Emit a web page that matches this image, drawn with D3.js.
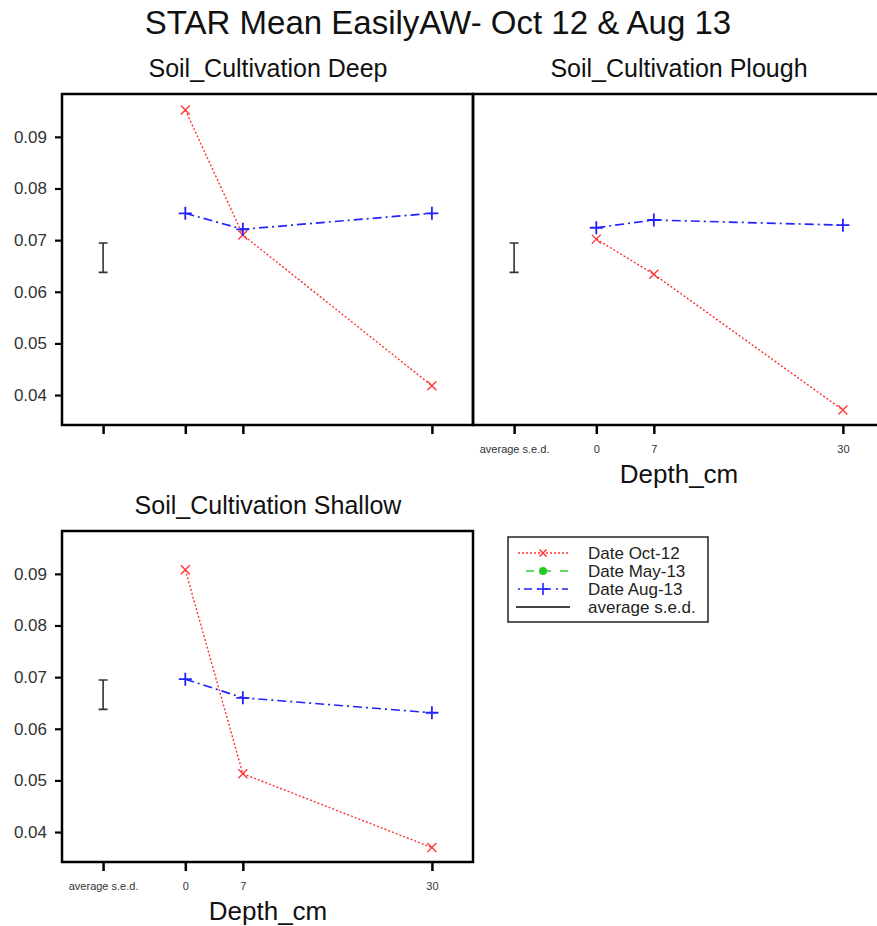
<!DOCTYPE html>
<html><head><meta charset="utf-8">
<script src="https://cdn.jsdelivr.net/npm/d3@7"></script>
<style>body{margin:0;background:#fff}svg{display:block;font-family:"Liberation Sans",Arial,sans-serif}</style>
</head><body>
<script>
// ---- data ----
const depths = [0, 7, 30];
const xTickValues = [-10, 0, 7, 30];
const xTickLabels = ["average s.e.d.", "0", "7", "30"];
const yTickValues = [0.04, 0.05, 0.06, 0.07, 0.08, 0.09];
const seriesNames = ["Date Oct-12", "Date May-13", "Date Aug-13", "average s.e.d."];
const deepOct12 = [0.0952, 0.0710, 0.0418];
const deepAug13 = [0.0752, 0.0721, 0.0752];
const ploughOct12 = [0.0702, 0.0634, 0.0371];
const ploughAug13 = [0.0724, 0.0739, 0.0729];
const shallowOct12 = [0.0908, 0.0513, 0.0370];
const shallowAug13 = [0.0696, 0.0660, 0.0631];
const sedCentre = 0.0666;
const sedHalf = 0.00285;
const sedX = -10;

const W = 877, H = 926;
const svg = d3.select("body").append("svg").attr("width", W).attr("height", H);

svg.append("text").attr("x", 438).attr("y", 34).attr("text-anchor", "middle")
  .attr("font-size", 33).attr("fill", "#111").text("STAR Mean EasilyAW- Oct 12 & Aug 13");

const pw = 411, ph = 331;
const x = d3.scaleLinear().domain([-15, 35]).range([0, pw]);
const y = d3.scaleLinear().domain([0.0342, 0.0983]).range([ph, 0]);

const panels = [
  {title: "Soil_Cultivation Deep", left: 62, top: 94, oct: deepOct12, aug: deepAug13, yLabels: true, xLabels: false},
  {title: "Soil_Cultivation Plough", left: 473, top: 94, oct: ploughOct12, aug: ploughAug13, yLabels: false, xLabels: true},
  {title: "Soil_Cultivation Shallow", left: 62, top: 531, oct: shallowOct12, aug: shallowAug13, yLabels: true, xLabels: true}
];

function crossPath(s){ return `M${-s},${-s}L${s},${s}M${-s},${s}L${s},${-s}`; }
function plusPath(s){ return `M${-s},0L${s},0M0,${-s}L0,${s}`; }

panels.forEach(p => {
  const g = svg.append("g").attr("transform", `translate(${p.left},${p.top})`);
  svg.append("text").attr("x", p.left + 206).attr("y", p.top - 17).attr("text-anchor", "middle")
    .attr("font-size", 25).attr("fill", "#111").text(p.title);

  // frame
  g.append("rect").attr("x", 0).attr("y", 0).attr("width", pw).attr("height", ph)
    .attr("fill", "none").attr("stroke", "#000").attr("stroke-width", 2.5);

  // y axis
  const ya = d3.axisLeft(y).tickValues(yTickValues).tickSize(7).tickSizeOuter(0)
    .tickFormat(p.yLabels ? d3.format(".2f") : () => "");
  const yg = g.append("g").call(ya);
  yg.select(".domain").remove();
  yg.selectAll(".tick line").attr("stroke", "#000").attr("stroke-width", 2.2);
  yg.selectAll(".tick text").attr("font-size", 17).attr("fill", "#333").attr("x", -15)
    .attr("font-family", "Liberation Sans, Arial, sans-serif");
  if (!p.yLabels) yg.selectAll(".tick line").remove();

  // x axis
  const xa = d3.axisBottom(x).tickValues(xTickValues).tickSize(9).tickSizeOuter(0)
    .tickFormat((d, i) => p.xLabels ? xTickLabels[i] : "");
  const xg = g.append("g").attr("transform", `translate(0,${ph})`).call(xa);
  xg.select(".domain").remove();
  xg.selectAll(".tick line").attr("stroke", "#000").attr("stroke-width", 2.5);
  xg.selectAll(".tick text").attr("font-size", 11).attr("fill", "#333").attr("y", 20)
    .attr("font-family", "Liberation Sans, Arial, sans-serif");

  if (p.xLabels) {
    svg.append("text").attr("x", p.left + 206).attr("y", p.top + ph + 58).attr("text-anchor", "middle")
      .attr("font-size", 26).attr("fill", "#111").text("Depth_cm");
  }

  // sed bar
  const sx = x(sedX), sy1 = y(sedCentre + sedHalf), sy2 = y(sedCentre - sedHalf);
  g.append("path").attr("d", `M${sx-4.5},${sy1}H${sx+4.5}M${sx},${sy1}V${sy2}M${sx-4.5},${sy2}H${sx+4.5}`)
    .attr("stroke", "#333").attr("stroke-width", 1.6).attr("fill", "none");

  const line = d3.line().x((d, i) => x(depths[i])).y(d => y(d));
  // Oct-12
  g.append("path").datum(p.oct).attr("d", line).attr("fill", "none")
    .attr("stroke", "#ff3333").attr("stroke-width", 1.4).attr("stroke-dasharray", "2,2");
  g.selectAll(".oc").data(p.oct).enter().append("path")
    .attr("transform", (d, i) => `translate(${x(depths[i])},${y(d)})`)
    .attr("d", crossPath(4.5)).attr("stroke", "#ff3333").attr("stroke-width", 1.3).attr("fill", "none");
  // Aug-13
  g.append("path").datum(p.aug).attr("d", line).attr("fill", "none")
    .attr("stroke", "#2222ff").attr("stroke-width", 1.7).attr("stroke-dasharray", "9,4,2,4");
  g.selectAll(".au").data(p.aug).enter().append("path")
    .attr("transform", (d, i) => `translate(${x(depths[i])},${y(d)})`)
    .attr("d", plusPath(6.5)).attr("stroke", "#2222ff").attr("stroke-width", 1.8).attr("fill", "none");
});

// legend
const lg = svg.append("g").attr("transform", "translate(508,537)");
lg.append("rect").attr("width", 200).attr("height", 85).attr("fill", "#fff")
  .attr("stroke", "#222").attr("stroke-width", 1.5);
const rows = [16, 34, 52, 70];
// Oct
lg.append("line").attr("x1", 10).attr("x2", 60).attr("y1", rows[0]).attr("y2", rows[0])
  .attr("stroke", "#ff3333").attr("stroke-width", 1.3).attr("stroke-dasharray", "2,2");
lg.append("path").attr("transform", `translate(35,${rows[0]})`).attr("d", crossPath(3.5))
  .attr("stroke", "#ff3333").attr("stroke-width", 1.5);
// May
lg.append("line").attr("x1", 18).attr("x2", 60).attr("y1", rows[1]).attr("y2", rows[1])
  .attr("stroke", "#33cc33").attr("stroke-width", 1.5).attr("stroke-dasharray", "8,9");
lg.append("circle").attr("cx", 35).attr("cy", rows[1]).attr("r", 4).attr("fill", "#22cc22");
// Aug
lg.append("line").attr("x1", 10).attr("x2", 60).attr("y1", rows[2]).attr("y2", rows[2])
  .attr("stroke", "#2222ff").attr("stroke-width", 1.5).attr("stroke-dasharray", "2,4,8,5");
lg.append("path").attr("transform", `translate(35,${rows[2]})`).attr("d", plusPath(6))
  .attr("stroke", "#2222ff").attr("stroke-width", 1.6);
// sed
lg.append("line").attr("x1", 8).attr("x2", 62).attr("y1", rows[3]).attr("y2", rows[3])
  .attr("stroke", "#444").attr("stroke-width", 2);
seriesNames.forEach((n, i) => {
  lg.append("text").attr("x", 80).attr("y", rows[i] + 6).attr("font-size", 17).attr("fill", "#222").text(n);
});
</script>
</body></html>
